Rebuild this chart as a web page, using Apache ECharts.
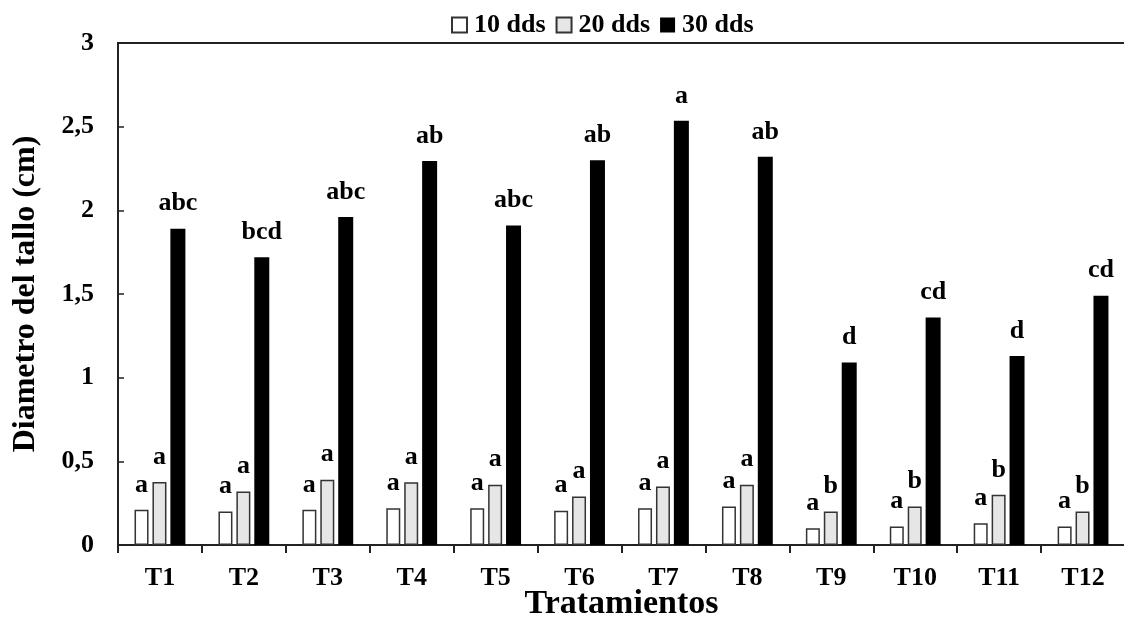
<!DOCTYPE html>
<html>
<head>
<meta charset="utf-8">
<script src="https://cdn.jsdelivr.net/npm/echarts@6/dist/echarts.min.js"></script>
<style>
html,body{margin:0;padding:0;background:#fff;}
#chart{width:1124px;height:633px;}
</style>
</head>
<body>
<div id="chart"></div>
<script>
var categories = ['T1','T2','T3','T4','T5','T6','T7','T8','T9','T10','T11','T12'];
var seriesNames = ['10 dds','20 dds','30 dds'];
var dds10 = [0.21,0.20,0.21,0.22,0.22,0.205,0.22,0.23,0.10,0.11,0.13,0.11];
var dds20 = [0.377,0.32,0.39,0.375,0.36,0.29,0.35,0.36,0.20,0.23,0.30,0.20];
var dds30 = [1.89,1.72,1.96,2.295,1.91,2.30,2.535,2.32,1.09,1.36,1.13,1.49];
var letters10 = ['a','a','a','a','a','a','a','a','a','a','a','a'];
var letters20 = ['a','a','a','a','a','a','a','a','b','b','b','b'];
var letters30 = ['abc','bcd','abc','ab','abc','ab','a','ab','d','cd','d','cd'];
var yTicks = [0,0.5,1,1.5,2,2.5,3];

var FONT = '"Liberation Serif", "Times New Roman", serif';
var chart = echarts.init(document.getElementById('chart'));

function labelCfg(letters){
  return {
    show:true, position:'top', distance:12,
    formatter:function(p){return letters[p.dataIndex];},
    fontFamily:FONT, fontWeight:'bold', fontSize:26, color:'#000'
  };
}

chart.setOption({
  animation:false,
  backgroundColor:'#fff',
  legend:{
    top:7, left:446,
    itemWidth:15, itemHeight:15, itemGap:10,
    icon:'rect',
    textStyle:{fontFamily:FONT, fontWeight:'bold', fontSize:26, color:'#000', padding:[0,0,0,2]},
    data:seriesNames
  },
  grid:{left:118, right:-1, top:43, bottom:88, outerBoundsMode:'none', containLabel:false,
        show:true, borderColor:'#222', borderWidth:2, backgroundColor:'transparent'},
  xAxis:{
    type:'category', data:categories,
    name:'Tratamientos', nameLocation:'middle', nameGap:42, nameMoveOverlap:false,
    nameTextStyle:{fontFamily:FONT, fontWeight:'bold', fontSize:34, color:'#000'},
    axisLine:{lineStyle:{color:'#222', width:2}},
    axisTick:{show:true, length:8, inside:false, lineStyle:{color:'#222', width:2}},
    axisLabel:{fontFamily:FONT, fontWeight:'bold', fontSize:26, color:'#000', margin:20}
  },
  yAxis:{
    type:'value', min:0, max:3, interval:0.5,
    name:'Diametro del tallo (cm)', nameLocation:'middle', nameGap:76, nameRotate:90,
    nameTextStyle:{fontFamily:FONT, fontWeight:'bold', fontSize:32, color:'#000'},
    axisLine:{show:true, lineStyle:{color:'#222', width:2}},
    axisTick:{show:true, inside:true, length:6, lineStyle:{color:'#222', width:1.5}},
    splitLine:{show:false},
    axisLabel:{fontFamily:FONT, fontWeight:'bold', fontSize:26, color:'#000', margin:24,
      formatter:function(v){return String(v).replace('.',',');}}
  },
  series:[
    {name:seriesNames[0], type:'bar', data:dds10, barWidth:14, barGap:'28%',
     itemStyle:{color:'#ffffff', borderColor:'#333', borderWidth:1.5},
     label:labelCfg(letters10)},
    {name:seriesNames[1], type:'bar', data:dds20, barWidth:14, barGap:'28%',
     itemStyle:{color:'#e6e6e6', borderColor:'#333', borderWidth:1.5},
     label:labelCfg(letters20)},
    {name:seriesNames[2], type:'bar', data:dds30, barWidth:15, barGap:'28%',
     itemStyle:{color:'#000000', borderColor:'#000', borderWidth:0},
     label:labelCfg(letters30)}
  ]
});
</script>
</body>
</html>
